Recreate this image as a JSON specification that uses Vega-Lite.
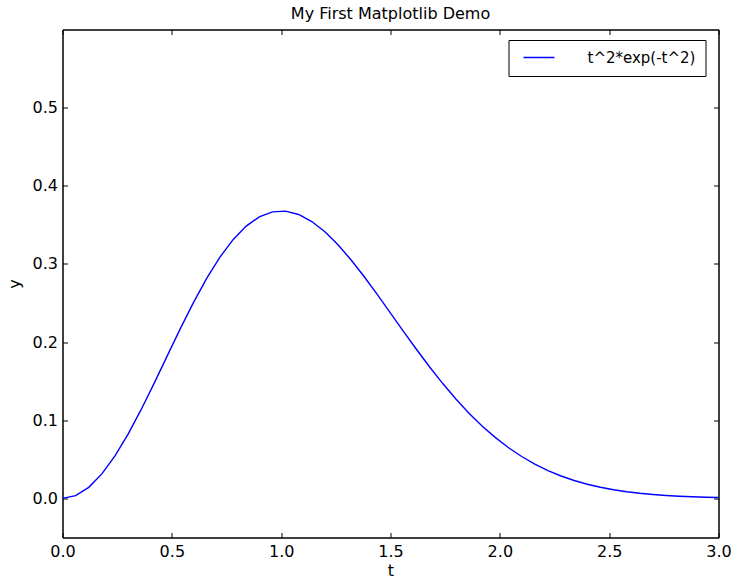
{
  "$schema": "https://vega.github.io/schema/vega-lite/v6.json",
  "width": 656,
  "height": 508,
  "autosize": {"type": "none"},
  "padding": {"left": 62.5, "top": 29.5, "right": 12.5, "bottom": 39.5},
  "background": "white",
  "title": {"text": "My First Matplotlib Demo", "font": "DejaVu Sans", "fontSize": 16, "fontWeight": "normal", "color": "black", "offset": 7},
  "config": {
    "view": {"stroke": "black", "strokeWidth": 1},
    "axis": {
      "domainColor": "black",
      "domainWidth": 1,
      "tickColor": "black",
      "tickWidth": 1,
      "tickSize": -5,
      "grid": false,
      "labelFont": "DejaVu Sans",
      "labelFontSize": 16,
      "labelColor": "black",
      "titleFont": "DejaVu Sans",
      "titleFontSize": 16,
      "titleFontWeight": "normal",
      "titleColor": "black",
      "labelFlush": false,
      "labelOverlap": false
    },
    "legend": {
      "labelFont": "DejaVu Sans",
      "labelFontSize": 15,
      "labelColor": "black"
    }
  },
  "data": {
    "values": [
      {"t": 0.00, "y": 0.0},
      {"t": 0.06, "y": 0.003587},
      {"t": 0.12, "y": 0.014194},
      {"t": 0.18, "y": 0.031367},
      {"t": 0.24, "y": 0.054376},
      {"t": 0.30, "y": 0.082254},
      {"t": 0.36, "y": 0.113846},
      {"t": 0.42, "y": 0.147873},
      {"t": 0.48, "y": 0.182987},
      {"t": 0.54, "y": 0.217852},
      {"t": 0.60, "y": 0.251163},
      {"t": 0.66, "y": 0.281796},
      {"t": 0.72, "y": 0.308703},
      {"t": 0.78, "y": 0.331106},
      {"t": 0.84, "y": 0.348420},
      {"t": 0.90, "y": 0.360335},
      {"t": 0.96, "y": 0.366686},
      {"t": 1.02, "y": 0.367567},
      {"t": 1.08, "y": 0.363310},
      {"t": 1.14, "y": 0.354313},
      {"t": 1.20, "y": 0.341176},
      {"t": 1.26, "y": 0.324537},
      {"t": 1.32, "y": 0.305108},
      {"t": 1.38, "y": 0.283577},
      {"t": 1.44, "y": 0.260714},
      {"t": 1.50, "y": 0.237148},
      {"t": 1.56, "y": 0.213438},
      {"t": 1.62, "y": 0.190225},
      {"t": 1.68, "y": 0.167834},
      {"t": 1.74, "y": 0.146636},
      {"t": 1.80, "y": 0.126890},
      {"t": 1.86, "y": 0.108780},
      {"t": 1.92, "y": 0.092403},
      {"t": 1.98, "y": 0.077769},
      {"t": 2.04, "y": 0.064880},
      {"t": 2.10, "y": 0.053604},
      {"t": 2.16, "y": 0.043912},
      {"t": 2.22, "y": 0.035662},
      {"t": 2.28, "y": 0.028716},
      {"t": 2.34, "y": 0.022926},
      {"t": 2.40, "y": 0.018150},
      {"t": 2.46, "y": 0.014246},
      {"t": 2.52, "y": 0.011088},
      {"t": 2.58, "y": 0.008560},
      {"t": 2.64, "y": 0.006551},
      {"t": 2.70, "y": 0.004979},
      {"t": 2.76, "y": 0.003748},
      {"t": 2.82, "y": 0.002799},
      {"t": 2.88, "y": 0.002074},
      {"t": 2.94, "y": 0.001521},
      {"t": 3.00, "y": 0.001111}
    ]
  },
  "layer": [
    {
      "mark": {"type": "line", "strokeWidth": 1.4, "clip": true},
      "encoding": {
        "x": {"field": "t", "type": "quantitative", "scale": {"domain": [0, 3], "nice": false, "zero": false},
              "axis": {"title": "t", "values": [0, 0.5, 1, 1.5, 2, 2.5, 3], "format": ".1f", "labelPadding": 11, "titlePadding": 3}},
        "y": {"field": "y", "type": "quantitative", "scale": {"domain": [-0.05, 0.6], "nice": false, "zero": false},
              "axis": {"title": "y", "values": [0, 0.1, 0.2, 0.3, 0.4, 0.5], "format": ".1f", "labelPadding": 10, "titlePadding": 10}},
        "color": {
          "datum": "t^2*exp(-t^2)",
          "scale": {"range": ["#0000ff"]},
          "legend": {
            "title": null,
            "orient": "none",
            "legendX": 446,
            "legendY": 10.5,
            "strokeColor": "black",
            "fillColor": "white",
            "padding": 10,
            "clipHeight": 15,
            "symbolType": "stroke",
            "symbolSize": 961,
            "symbolStrokeWidth": 1.4,
            "symbolOffset": 4,
            "labelOffset": 32
          }
        }
      }
    },
    {
      "mark": {"type": "line", "opacity": 0},
      "encoding": {
        "x": {"field": "t", "type": "quantitative", "scale": {"domain": [0, 3], "nice": false, "zero": false},
              "axis": {"orient": "top", "title": null, "labels": false, "values": [0, 0.5, 1, 1.5, 2, 2.5, 3]}},
        "y": {"field": "y", "type": "quantitative", "scale": {"domain": [-0.05, 0.6], "nice": false, "zero": false},
              "axis": {"orient": "right", "title": null, "labels": false, "values": [0, 0.1, 0.2, 0.3, 0.4, 0.5]}}
      }
    }
  ],
  "resolve": {"axis": {"x": "independent", "y": "independent"}}
}
